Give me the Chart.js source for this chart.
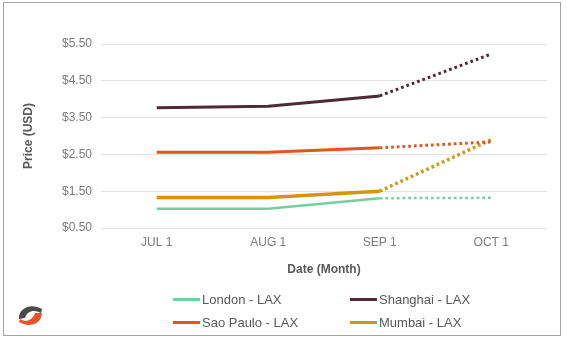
<!DOCTYPE html>
<html>
<head>
<meta charset="utf-8">
<script src="https://cdn.jsdelivr.net/npm/chart.js@4/dist/chart.umd.min.js"></script>
<style>
  html, body { margin: 0; padding: 0; background: #fff; }
  #wrap { position: relative; width: 567px; height: 342px; overflow: hidden; font-family: "Liberation Sans", Arial, sans-serif; }
  #frame { position: absolute; left: 3px; top: 2px; width: 558px; height: 334px; border: 1px solid #a3a3a3; box-sizing: border-box; pointer-events: none; }
  #chart { position: absolute; left: 0; top: 0; }
  #legend { position: absolute; left: 173px; top: 290px; width: 360px; display: grid; grid-template-columns: 177px 177px; row-gap: 4px; }
  .item { display: flex; align-items: center; height: 19px; font-size: 13px; color: #595959; white-space: nowrap; }
  .item .swatch { width: 27px; height: 3px; margin-right: 2px; }
  #logo { position: absolute; left: 15px; top: 300px; }
</style>
</head>
<body>
<div id="wrap">
  <canvas id="chart" width="567" height="342"></canvas>
  <div id="legend"></div>
  <svg id="logo" width="30" height="30" viewBox="0 0 30 30">
    <path d="M4 19 C3 9, 15 2, 27 9 L26 13 C19 9, 12 11, 10 18 Z" fill="#4a4a4a"/>
    <path d="M27 13 C27 23, 15 29, 4 22 L5 19 C11 23, 18 20, 20 13 Z" fill="#e8542a"/>
  </svg>
  <div id="frame"></div>
</div>
<script>
const $ = (id) => document.getElementById(id);

// months on the x axis
const months = ["JUL 1", "AUG 1", "SEP 1", "OCT 1"];

// price per route, USD (last point is the forecast)
const london = [1.02, 1.02, 1.31, 1.32];
const shanghai = [3.77, 3.81, 4.09, 5.23];
const saoPaulo = [2.56, 2.56, 2.68, 2.84];
const mumbai = [1.33, 1.33, 1.50, 2.90];

const routeNames = ["London - LAX", "Shanghai - LAX", "Sao Paulo - LAX", "Mumbai - LAX"];
const routeColors = ["#72d0a0", "#4d2a35", "#e0561c", "#d4960f"];
const routeWidths = [2.5, 3, 3, 3.5];

const FONT = "'Liberation Sans', Arial, sans-serif";
const forecastFrom = 2; // segments after SEP 1 are dotted

const series = [london, shanghai, saoPaulo, mumbai];

const datasets = series.map((data, i) => ({
  label: routeNames[i],
  data,
  borderColor: routeColors[i],
  backgroundColor: routeColors[i],
  borderWidth: routeWidths[i],
  pointRadius: 0,
  tension: 0,
  segment: {
    borderDash: (ctx) => (ctx.p0DataIndex >= forecastFrom ? [2.7, 3] : undefined),
  },
}));

new Chart($("chart"), {
  type: "line",
  data: { labels: months, datasets },
  options: {
    responsive: false,
    animation: false,
    layout: { padding: { left: 16, right: 20, top: 44, bottom: 62 } },
    plugins: { legend: { display: false }, tooltip: { enabled: false } },
    scales: {
      x: {
        offset: true,
        grid: { display: false, drawTicks: false },
        border: { display: false },
        ticks: { color: "#7a7a7a", padding: 7, font: { family: FONT, size: 12 } },
        title: {
          display: true,
          text: "Date (Month)",
          color: "#595959",
          padding: { top: 0, bottom: 3 },
          font: { family: FONT, size: 12, weight: "bold" },
        },
        afterFit: (scale) => { scale.height = 52; },
      },
      y: {
        min: 0.5,
        max: 5.5,
        grid: { color: "#e3e3e3", lineWidth: 1, drawTicks: false },
        border: { display: false },
        ticks: {
          stepSize: 1,
          color: "#7a7a7a",
          padding: 9,
          font: { family: FONT, size: 12 },
          callback: (v) => "$" + Number(v).toFixed(2),
        },
        title: {
          display: true,
          text: "Price (USD)",
          color: "#595959",
          padding: { top: 5, bottom: 0 },
          font: { family: FONT, size: 12, weight: "bold" },
        },
        afterFit: (scale) => { scale.width = 85; },
      },
    },
  },
});

// legend in two columns
function renderLegend() {
  const box = $("legend");
  box.innerHTML = "";
  for (let i = 0; i < routeNames.length; i++) {
    const el = document.createElement("div");
    el.className = "item";
    el.innerHTML = `<span class="swatch" style="background:${routeColors[i]}"></span>${routeNames[i]}`;
    box.appendChild(el);
  }
}

renderLegend();
</script>
</body>
</html>
